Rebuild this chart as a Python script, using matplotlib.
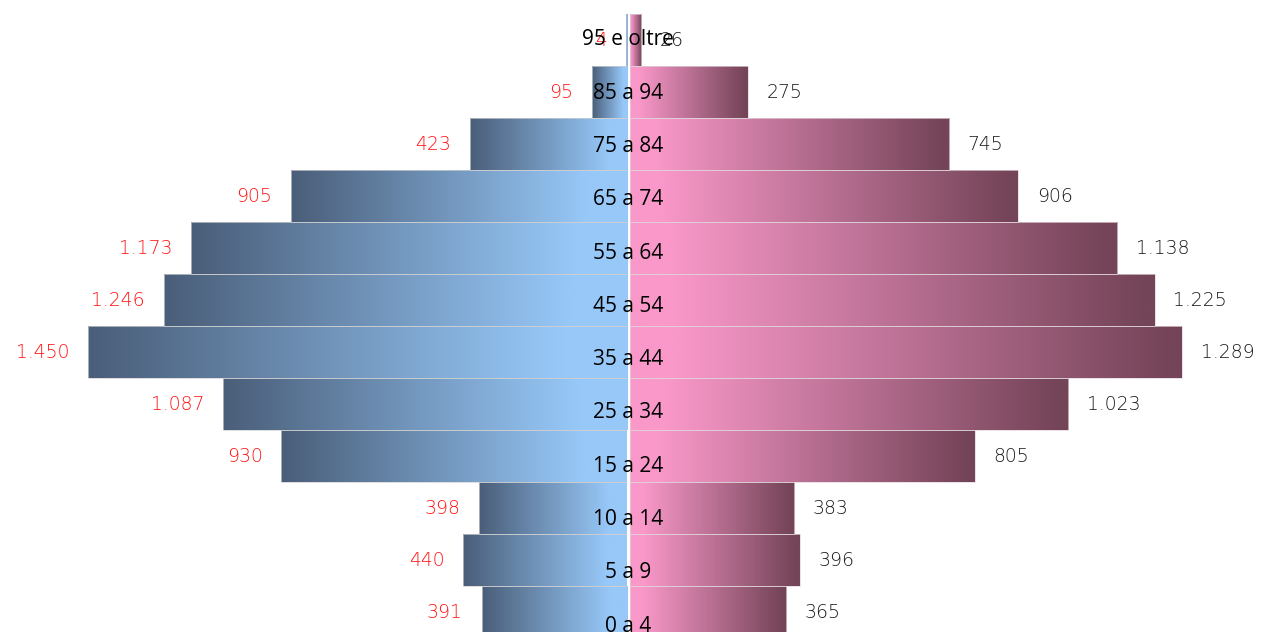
import numpy as np
import matplotlib
matplotlib.use("Agg")
import matplotlib.pyplot as plt
from matplotlib.colors import to_rgb

# ---- data ----
categories = ["0 a 4", "5 a 9", "10 a 14", "15 a 24", "25 a 34", "35 a 44",
              "45 a 54", "55 a 64", "65 a 74", "75 a 84", "85 a 94", "95 e oltre"]
males = [391, 440, 398, 930, 1087, 1450, 1246, 1173, 905, 423, 95, 4]
females = [365, 396, 383, 805, 1023, 1289, 1225, 1138, 906, 745, 275, 26]


def fmt(v):
    return f"{v:,}".replace(",", ".")


W, H = 1261, 632
fig = plt.figure(figsize=(W / 100, H / 100), dpi=100)
fig.patch.set_facecolor("white")

ypos = np.arange(len(categories))
ylim = (-0.385, -0.385 + H / 52.0)

axL = fig.add_axes([0, 0, 627 / W, 1])
axR = fig.add_axes([630 / W, 0, 631 / W, 1])
for ax in (axL, axR):
    ax.set_ylim(*ylim)
    ax.axis("off")
axL.set_xlim(-1686.7, 0)
axR.set_xlim(0, 1473.5)

dark_b, light_b = np.array(to_rgb("#4a5e79")), np.array(to_rgb("#97c8f8"))
pink, dark_p = np.array(to_rgb("#f998c9")), np.array(to_rgb("#744458"))

N = 256
t = np.linspace(0, 1, N)
# left: outer (left) dark -> center light
tl = np.clip(t / 0.88, 0, 1)
grad_left = (dark_b[None, :] * (1 - tl[:, None]) + light_b[None, :] * tl[:, None])[None, :, :]
# right: center pink -> outer dark
tr = np.clip((t - 0.08) / 0.9, 0, 1)
grad_right = (pink[None, :] * (1 - tr[:, None]) + dark_p[None, :] * tr[:, None])[None, :, :]

barsL = axL.barh(ypos, [-v for v in males], height=1.0, facecolor="none",
                 edgecolor="#d0d0d0", linewidth=0.5, zorder=3)
barsR = axR.barh(ypos, females, height=1.0, facecolor="none",
                 edgecolor="#e0d4da", linewidth=0.5, zorder=3)

for ax, bars, grad in ((axL, barsL, grad_left), (axR, barsR, grad_right)):
    for b in bars:
        x0, y0 = b.get_x(), b.get_y()
        w, h = b.get_width(), b.get_height()
        xa, xb = min(x0, x0 + w), max(x0, x0 + w)
        im = ax.imshow(grad, extent=[xa, xb, y0, y0 + h], aspect="auto",
                       interpolation="bilinear", zorder=2, origin="lower")
        im.set_clip_path(b)
    ax.set_ylim(*ylim)

valfont = dict(family="DejaVu Sans", fontsize=13.5, fontweight="light")
for y, v in zip(ypos, males):
    axL.annotate(fmt(v), xy=(-v, y), xytext=(-13.5, -0.5), textcoords="offset points",
                 ha="right", va="center", color="#ff1414", zorder=5, **valfont)
for y, v in zip(ypos, females):
    axR.annotate(fmt(v), xy=(v, y), xytext=(13.5, -0.5), textcoords="offset points",
                 ha="left", va="center", color="#1a1a1a", zorder=5, **valfont)

axT = fig.add_axes([0, 0, 1, 1])
axT.axis("off")
axT.set_xlim(0, 1)
axT.set_ylim(-0.11, -0.11 + H / 53.3)
for y, c in zip(ypos, categories):
    axT.text(628 / W, y, c, ha="center", va="center", fontsize=15,
             family="Open Sans", color="black", zorder=6)

fig.savefig("out.png", dpi=100, facecolor="white")
